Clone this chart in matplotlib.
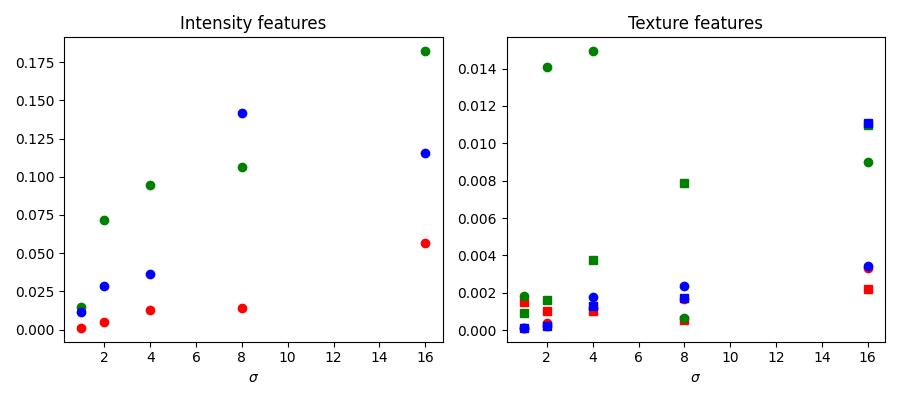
import matplotlib
matplotlib.use('Agg')
import matplotlib.pyplot as plt

# scales
sigmas = [1, 2, 4, 8, 16]

# intensity features (per colour channel)
int_red = [0.0011, 0.0050, 0.0129, 0.0144, 0.0567]
int_green = [0.0146, 0.0717, 0.0946, 0.1066, 0.1822]
int_blue = [0.0116, 0.0286, 0.0364, 0.1417, 0.1155]

# texture features: circles and squares per channel
tex_red_o = [0.00012, 0.00037, 0.00120, 0.00165, 0.00332]
tex_red_s = [0.00152, 0.00102, 0.00100, 0.00055, 0.00221]
tex_green_o = [0.00184, 0.01408, 0.01493, 0.00064, 0.00899]
tex_green_s = [0.00091, 0.00162, 0.00376, 0.00787, 0.01100]
tex_blue_o = [0.00014, 0.00023, 0.00177, 0.00237, 0.00343]
tex_blue_s = [0.00012, 0.00022, 0.00130, 0.00171, 0.01106]

fig, (ax1, ax2) = plt.subplots(1, 2, figsize=(9, 4), dpi=100)

ax1.plot(sigmas, int_red, 'ro')
ax1.plot(sigmas, int_green, 'go')
ax1.plot(sigmas, int_blue, 'bo')
ax1.set_title('Intensity features')
ax1.set_xlabel(r'$\sigma$')

ax2.plot(sigmas, tex_red_o, 'ro')
ax2.plot(sigmas, tex_red_s, 'rs')
ax2.plot(sigmas, tex_green_o, 'go')
ax2.plot(sigmas, tex_green_s, 'gs')
ax2.plot(sigmas, tex_blue_o, 'bo')
ax2.plot(sigmas, tex_blue_s, 'bs')
ax2.set_title('Texture features')
ax2.set_xlabel(r'$\sigma$')

plt.tight_layout()
plt.savefig('out.png')
